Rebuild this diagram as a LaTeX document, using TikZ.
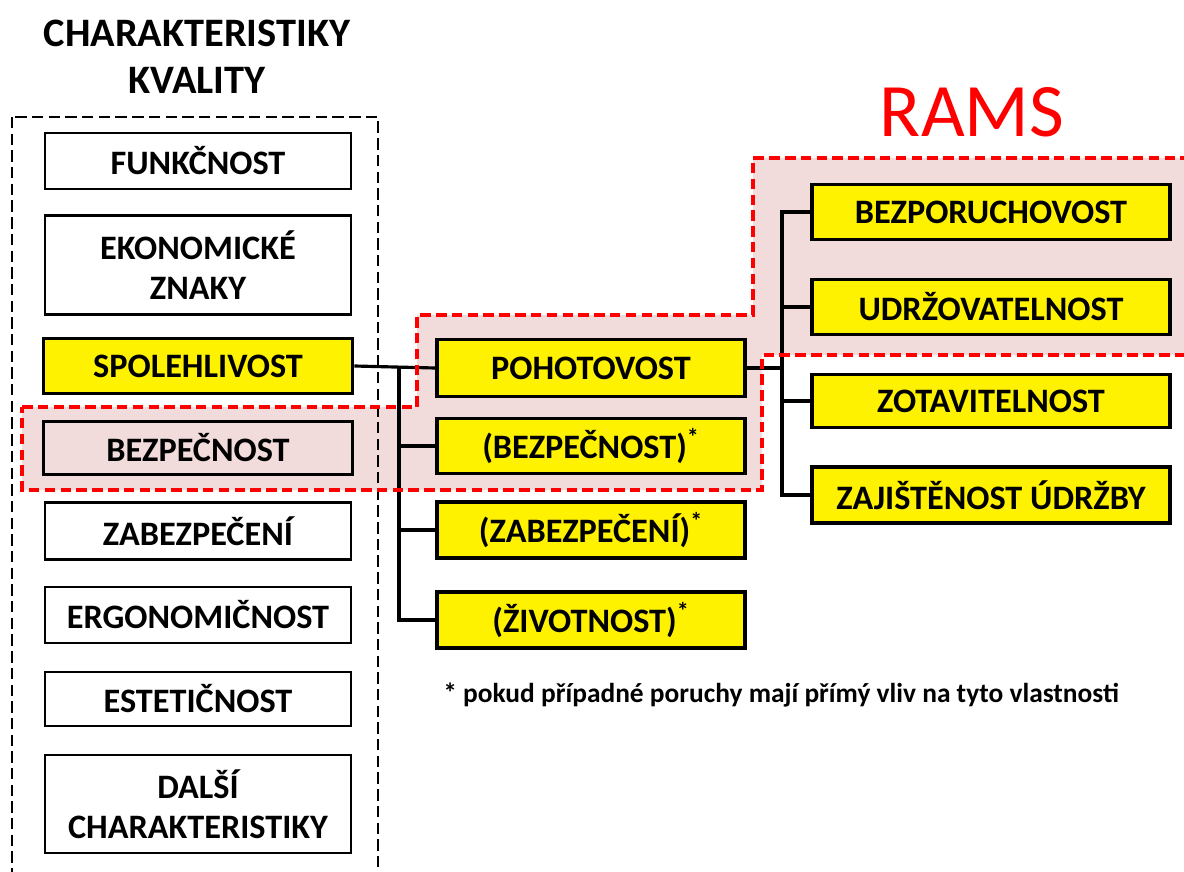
\documentclass[tikz,border=0pt]{standalone}
\usepackage{fontspec}
\setmainfont{Carlito}
\definecolor{rose}{HTML}{F2DCDB}
\definecolor{ramsred}{HTML}{FF0000}
\tikzset{
  charbox/.style={draw=black, line width=1.6pt, fill=white, minimum width=6.12cm, minimum height=1.12cm,
    inner sep=0pt, align=center, font=\fontsize{19.5}{23}\selectfont\bfseries},
  yellowbox/.style={charbox, fill=yellow, line width=2.2pt},
  link/.style={line width=1.8pt}
}
\begin{document}
\begin{tikzpicture}[x=0.02cm, y=-0.02cm]
    \useasboundingbox (0,0) rectangle (1184,872);

    % RAMS area
    \fill[rose] (22,407) -- (417,407) -- (417,315) -- (753,315) -- (753,158) -- (1195,158)
      -- (1195,355) -- (762,355) -- (762,490) -- (22,490) -- cycle;

    % Quality characteristics
    \node[align=center, font=\fontsize{23}{27}\selectfont\bfseries] (title) at (197,57) {CHARAKTERISTIKY\\KVALITY};
    \draw[line width=0.8pt, dash pattern=on 6.5pt off 3pt] (12,117) rectangle (378,885);

    \node[charbox] (funkcnost) at (198,161) {FUNKČNOST};
    \node[charbox, minimum height=1.98cm] (ekonom) at (198,265) {EKONOMICKÉ\\ZNAKY};
    \node[yellowbox, minimum width=6.18cm, minimum height=1.1cm] (spol) at (198,366) {SPOLEHLIVOST};
    \node[charbox, fill=rose, minimum width=6.18cm, minimum height=1.06cm] (bezp) at (198,448) {BEZPEČNOST};
    \node[charbox, minimum height=1.14cm] (zabezp) at (198,531) {ZABEZPEČENÍ};
    \node[charbox] (ergo) at (198,615) {ERGONOMIČNOST};
    \node[charbox, minimum height=1.08cm] (estet) at (198,699) {ESTETIČNOST};
    \node[charbox, minimum height=1.96cm] (dalsi) at (198,804) {DALŠÍ\\CHARAKTERISTIKY};

    % Reliability branches
    \node[yellowbox, minimum width=6.16cm, minimum height=1.14cm] (pohot) at (591,368) {POHOTOVOST};
    \node[yellowbox, minimum width=6.16cm, minimum height=1.1cm] (mbezp) at (591,446) {(BEZPEČNOST)\textsuperscript{*}};
    \node[yellowbox, minimum width=6.16cm] (mzabezp) at (591,530) {(ZABEZPEČENÍ)\textsuperscript{*}};
    \node[yellowbox, minimum width=6.16cm] (zivot) at (591,620) {(ŽIVOTNOST)\textsuperscript{*}};

    % Availability branches
    \node[yellowbox, minimum width=7.16cm, minimum height=1.1cm] (bezpor) at (991,212) {BEZPORUCHOVOST};
    \node[yellowbox, minimum width=7.16cm, minimum height=1.1cm] (udrz) at (991,307) {UDRŽOVATELNOST};
    \node[yellowbox, minimum width=7.16cm, minimum height=1.06cm] (zotav) at (991,401) {ZOTAVITELNOST};
    \node[yellowbox, minimum width=7.16cm] (zajist) at (991,495) {ZAJIŠTĚNOST ÚDRŽBY};

    % Connectors
    \coordinate (j1) at (399,368);
    \coordinate (j2) at (782,368);
    \draw[link] (spol.east) -- (pohot.west);
    \foreach \n in {mbezp,mzabezp,zivot}
      \draw[link] (j1) |- (\n.west);
    \draw[link] (pohot.east) -- (j2);
    \foreach \n in {bezpor,udrz,zotav,zajist}
      \draw[link] (j2) |- (\n.west);

    % RAMS border
    \draw[ramsred, line width=2.3pt, dash pattern=on 6pt off 3pt] (22,407) -- (417,407) -- (417,315) -- (753,315)
      -- (753,158) -- (1195,158) -- (1195,355) -- (762,355) -- (762,490) -- (22,490) -- cycle;
    \node[ramsred, font=\fontsize{43}{50}\selectfont] (rams) at (972,112) {RAMS};

    % Note
    \node[anchor=base west, inner sep=0pt, font=\fontsize{15.6}{18}\selectfont\bfseries] (note) at (443,702)
      {* pokud případné poruchy mají přímý vliv na tyto vlastnosti};
\end{tikzpicture}
\end{document}
